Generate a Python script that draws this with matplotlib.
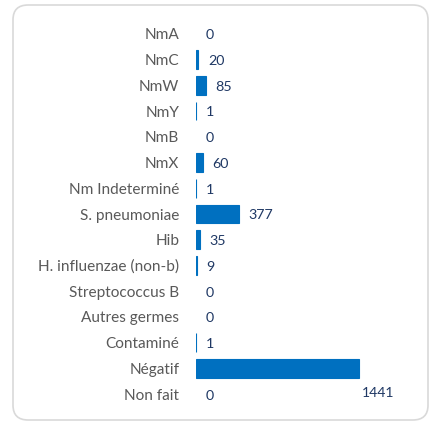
import matplotlib.pyplot as plt
from matplotlib.patches import FancyBboxPatch

categories = ['NmA', 'NmC', 'NmW', 'NmY', 'NmB', 'NmX', 'Nm Indeterminé',
              'S. pneumoniae', 'Hib', 'H. influenzae (non-b)', 'Streptococcus B',
              'Autres germes', 'Contaminé', 'Négatif', 'Non fait']
values = [0, 20, 85, 1, 0, 60, 1, 377, 35, 9, 0, 0, 1, 1441, 0]

W, H = 433, 423
fig = plt.figure(figsize=(W / 100, H / 100), dpi=100)
plt.rcParams['font.family'] = ['Lato', 'DejaVu Sans']

# rounded card behind the chart
card = FancyBboxPatch((13 / W, 1 - 420 / H), (428 - 13) / W, (420 - 5) / H,
                      boxstyle='round,pad=0,rounding_size=0.035',
                      transform=fig.transFigure, facecolor='white',
                      edgecolor='#d9d9d9', linewidth=1.2, zorder=-1)
fig.add_artist(card)

ax = fig.add_axes([196 / W, 1 - 407 / H, (400 - 196) / W, (407 - 21) / H])
ax.patch.set_alpha(0)

y = list(range(len(categories)))
blue = '#0070c0'
for yi, v in zip(y, values):
    ax.barh(yi, v, height=0.72, color=blue,
            edgecolor=blue if v > 0 else 'none', linewidth=0.8)

for yi, v in zip(y, values):
    if categories[yi] == 'Négatif':
        # label ends up below its bar in the original
        ax.annotate(str(v), (v, yi), xytext=(1.5, -18), textcoords='offset points',
                    va='center', ha='left', fontsize=10, color='#1f3864')
    else:
        ax.annotate(str(v), (v, yi), xytext=(7, -1), textcoords='offset points',
                    va='center', ha='left', fontsize=10.3, color='#1f3864')

ax.set_xlim(0, 1800)
ax.set_ylim(len(categories) - 0.5, -0.5)
ax.set_yticks(y)
ax.set_yticklabels(categories, fontsize=11.1, color='#595959')
ax.tick_params(axis='y', length=0, pad=12)
ax.set_xticks([])
for s in ax.spines.values():
    s.set_visible(False)

fig.savefig('out.png', dpi=100)
